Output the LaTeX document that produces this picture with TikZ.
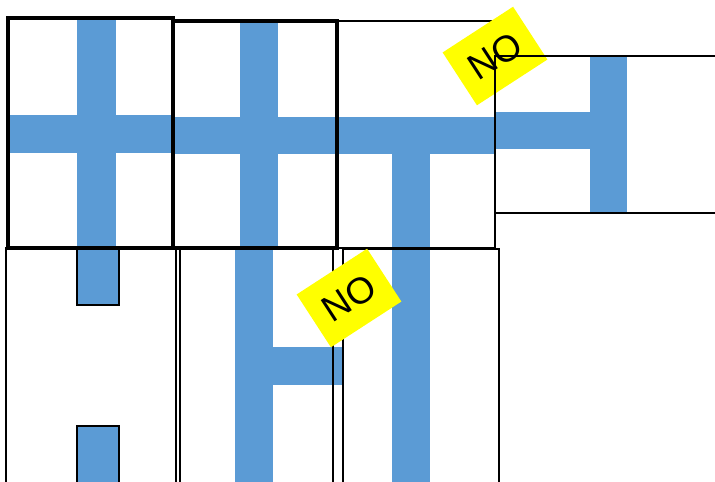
\documentclass[tikz,border=0pt]{standalone}
\usepackage{fontspec}
\setmainfont{Liberation Sans}

\definecolor{pipeblue}{RGB}{91,155,213}
\definecolor{signyellow}{RGB}{255,255,0}

\begin{document}
\begin{tikzpicture}[x=0.02cm, y=-0.02cm,
    pipe/.style={fill=pipeblue},
    tilethick/.style={draw=black, line width=1.8pt},
    tilethin/.style={draw=black, line width=1.1pt},
    nosign/.style={fill=signyellow, minimum width=1.68cm, minimum height=1.26cm,
        inner sep=0pt, rotate=33, font=\fontsize{21}{21}\selectfont}]

    \useasboundingbox (0,0) rectangle (715,481);
    \clip (0,0) rectangle (715,481);

    % Pipes top row
    \fill[pipe] (77,20) rectangle (116,248);
    \fill[pipe] (10,115) rectangle (172,153);
    \fill[pipe] (240,21) rectangle (278,248);
    \fill[pipe] (173,117) rectangle (336,154);
    \fill[pipe] (337,117) rectangle (495,154);
    \fill[pipe] (392,154) rectangle (430,248);

    % Pipes bottom row
    \draw[pipe, line width=0.8pt] (77,248) rectangle (119,305);
    \draw[pipe, line width=0.8pt] (77,426) rectangle (119,495);
    \fill[pipe] (235,248) rectangle (273,495);
    \fill[pipe] (273,347) rectangle (342,385);
    \fill[pipe] (392,248) rectangle (430,495);

    % Tiles
    \draw[tilethick] (8,18) rectangle (173,248);
    \draw[tilethick] (173,21) rectangle (337,248);
    \draw[tilethin] (337,21) rectangle (495,248);
    \draw[tilethin] (6,248) rectangle (176,495);
    \draw[tilethin] (180,248) rectangle (333,495);
    \draw[tilethin] (343,249) rectangle (499,495);

    % Sign on the corner
    \node[nosign] (signtop) at (495,56) {NO};

    % Last tile, with its pipe
    \fill[pipe] (495,112) rectangle (590,149);
    \fill[pipe] (590,56) rectangle (627,213);
    \draw[tilethin] (495,56) rectangle (730,213);

    % Sign between the bottom tiles
    \node[nosign] (signlow) at (349,298) {NO};

\end{tikzpicture}
\end{document}
